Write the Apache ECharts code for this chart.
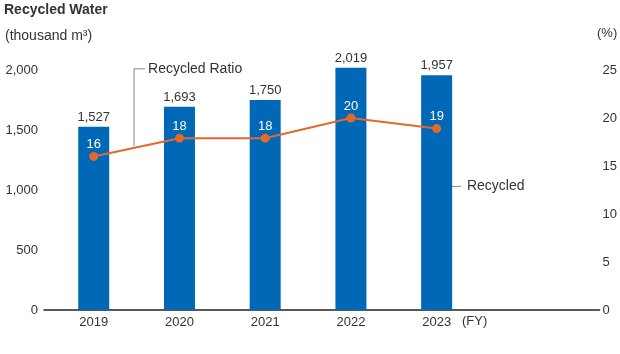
<!DOCTYPE html>
<html>
<head>
<meta charset="utf-8">
<script src="https://cdn.jsdelivr.net/npm/echarts@6/dist/echarts.min.js"></script>
<style>
  html, body { margin: 0; padding: 0; background: #fff; }
  #waterChart { width: 620px; height: 354px; }
</style>
</head>
<body>
<div id="waterChart"></div>
<script>
  const years = ["2019", "2020", "2021", "2022", "2023"]
  const recycled = [1527, 1693, 1750, 2019, 1957]
  const recycledRatio = [16.0, 17.9, 17.9, 20.0, 18.9]
  const leftTicks = [0, 500, 1000, 1500, 2000]
  const rightTicks = [0, 5, 10, 15, 20, 25]

  const font = "Liberation Sans"
  const textColor = "#333"
  const blue = "#0068b7"
  const orange = "#e4682c"

  const fmtNum = (v) => String(v).replace(/\B(?=(\d{3})+(?!\d))/g, ",")

  const options = {
    animation: false,
    textStyle: { fontFamily: font },
    title: [
      { text: "Recycled Water", left: 4, top: 3, padding: 0, textStyle: { fontFamily: font, fontSize: 14, fontWeight: "bold", color: textColor } },
      { text: "(thousand m³)", left: 5, top: 29, padding: 0, textStyle: { fontFamily: font, fontSize: 14, fontWeight: "normal", color: textColor } },
      { text: "(%)", left: 597, top: 27, padding: 0, textStyle: { fontFamily: font, fontSize: 13, fontWeight: "normal", color: textColor } },
      { text: "(FY)", left: 462, top: 315, padding: 0, textStyle: { fontFamily: font, fontSize: 13, fontWeight: "normal", color: textColor } },
    ],
    grid: {
      left: 44,
      right: 20,
      top: 70,
      bottom: 44,
      containLabel: false,
    },
    xAxis: {
      type: "value",
      min: -0.58,
      max: 5.9,
      splitLine: { show: false },
      axisTick: { show: false },
      axisLine: { show: true, onZero: false, lineStyle: { color: "#222", width: 1.5 } },
      axisLabel: {
        customValues: years.map((y, i) => i),
        formatter: (v) => years[Math.round(v)],
        color: textColor,
        fontSize: 13,
        margin: 6,
      },
    },
    yAxis: [
      {
        type: "value",
        min: leftTicks[0],
        max: leftTicks[leftTicks.length - 1],
        interval: 500,
        splitLine: { show: false },
        axisLine: { show: false },
        axisTick: { show: false },
        axisLabel: { formatter: (v) => fmtNum(v), color: textColor, fontSize: 13, margin: 6 },
      },
      {
        type: "value",
        min: rightTicks[0],
        max: rightTicks[rightTicks.length - 1],
        interval: 5,
        splitLine: { show: false },
        axisLine: { show: false },
        axisTick: { show: false },
        axisLabel: { color: textColor, fontSize: 13, margin: 3 },
      },
    ],
    series: [
      {
        name: "Recycled",
        type: "bar",
        clip: false,
        barWidth: 31,
        data: recycled.map((v, i) => [i, v]),
        itemStyle: { color: blue },
        label: {
          show: true,
          position: "top",
          distance: 3,
          color: textColor,
          fontSize: 13,
          formatter: (p) => fmtNum(p.value[1]),
        },
      },
      {
        name: "Recycled Ratio",
        type: "line",
        yAxisIndex: 1,
        data: recycledRatio.map((v, i) => [i, v]),
        symbol: "circle",
        symbolSize: 9,
        itemStyle: { color: orange },
        lineStyle: { color: orange, width: 2 },
        label: {
          show: true,
          position: "top",
          distance: 1,
          color: "#fff",
          fontSize: 13,
          formatter: (p) => Math.round(p.value[1]),
        },
        z: 3,
      },
    ],
  }

  const dom = document.getElementById("waterChart")
  const myChart = echarts.init(dom, null, { renderer: "canvas" })
  myChart.setOption(options)

  // leader lines for the two series names, placed from the axes
  const px = (x, y, axis) => myChart.convertToPixel({ xAxisIndex: 0, yAxisIndex: axis }, [x, y])
  const ratioFoot = px(0.47, (recycledRatio[0] + recycledRatio[1]) / 2 + 0.1, 1)
  const ratioTop = px(0.47, 2010, 0)
  const recycledAt = px(4.12, 1030, 0)
  const leaderStyle = { stroke: "#888", lineWidth: 1 }
  myChart.setOption({
    graphic: [
      { type: "polyline", shape: { points: [[ratioTop[0], ratioFoot[1]], [ratioTop[0], ratioTop[1]], [ratioTop[0] + 11, ratioTop[1]]] }, style: leaderStyle },
      { type: "text", x: ratioTop[0] + 14, y: ratioTop[1], style: { text: "Recycled Ratio", fill: textColor, font: "14px " + font, textVerticalAlign: "middle" } },
      { type: "line", shape: { x1: recycledAt[0], y1: recycledAt[1], x2: recycledAt[0] + 14, y2: recycledAt[1] }, style: leaderStyle },
      { type: "text", x: recycledAt[0] + 20, y: recycledAt[1], style: { text: "Recycled", fill: textColor, font: "14px " + font, textVerticalAlign: "middle" } },
    ],
  })
  window.addEventListener("resize", () => myChart.resize(), false)
</script>
</body>
</html>
